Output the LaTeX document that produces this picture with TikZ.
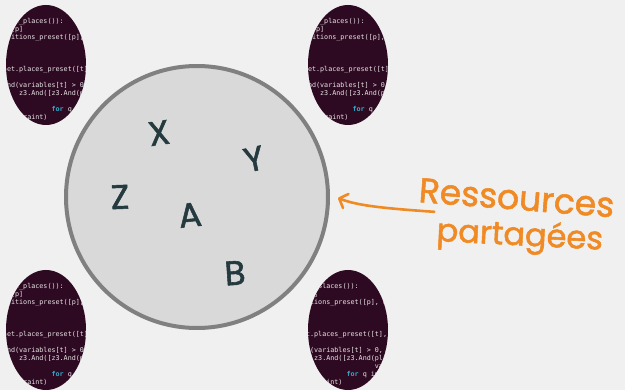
\documentclass[tikz,border=0pt]{standalone}
\usepackage{fontspec}
\setmainfont{Poppins}
\setmonofont{DejaVu Sans Mono}
\newfontfamily\handfont[FakeBold=1.6]{Poppins}
\usetikzlibrary{arrows.meta}

\definecolor{bg}{HTML}{F0F0F0}
\definecolor{aubergine}{HTML}{2E0A22}
\definecolor{codefg}{HTML}{E8E4E6}
\definecolor{kw}{HTML}{34A9C9}
\definecolor{poolfill}{HTML}{D9D9D9}
\definecolor{poolline}{HTML}{808080}
\definecolor{ink}{HTML}{243A3E}
\definecolor{note}{HTML}{EF8A24}

\tikzset{
  codeln/.style={anchor=base west, inner sep=0pt, outer sep=0pt, text=codefg,
    font=\fontsize{6.73}{8}\selectfont\ttfamily},
  pool/.style={circle, draw=poolline, fill=poolfill, line width=4pt,
    minimum size=262pt, inner sep=0pt},
  handletter/.style={text=ink, inner sep=0pt, font=\fontsize{34}{34}\selectfont\handfont},
  notetext/.style={text=note, inner sep=0pt, anchor=base west},
  notearrow/.style={draw=note, line width=2.6pt, line cap=round,
    -{Straight Barb[length=7pt,width=15pt,round]}},
}

% A terminal excerpt seen through an oval window.
% #1 name prefix, #2 centre of the oval, #3 horizontal offset of the text
\newcommand\codepanel[3]{%
  \begin{scope}[name prefix=#1-]
    \fill[aubergine] #2 ellipse [x radius=40, y radius=60];
    \begin{scope}
      \clip #2 ellipse [x radius=40, y radius=60];
      \begin{scope}[shift={#2}, xshift=#3]
        \foreach \r/\c/\t in {
            0/0/{for p in net.get\_places()):},
            1/4/{pre = vars[p]},
            2/1/{t = net.transitions\_preset([p], net)},
            6/3/{for t in net.places\_preset([t], net):},
            8/2/{cons = z3.And(variables[t] > 0,},
            9/16/{z3.And([z3.And(places[q] > 0,},
            10/31/{variables[q] > 0)},
            11/24/{\textbf{\textcolor{kw}{for}} q in pre])},
            12/1/{solver.add(constraint)}} {
          \node[codeln] (l\r) at ({-91.65+4.05*\c}, {-41+8*\r}) {\t};
        }
      \end{scope}
    \end{scope}
  \end{scope}
}

\begin{document}
\begin{tikzpicture}[x=1pt, y=-1pt]
  \useasboundingbox (0,0) rectangle (625,390);
  \fill[bg] (0,0) rectangle (625,390);

  % the four terminal windows
  \codepanel{tl}{(46,65)}{0pt}
  \codepanel{tr}{(348,65)}{-1pt}
  \codepanel{bl}{(46,330)}{0pt}
  \codepanel{br}{(348,330)}{-7pt}

  % the shared pool
  \node[pool] (res) at (197,197) {};

  \node[handletter, rotate=8]  (lx) at (159,133) {X};
  \node[handletter, rotate=12] (ly) at (254,159) {Y};
  \node[handletter, rotate=2]  (lz) at (120,197) {Z};
  \node[handletter, rotate=6]  (la) at (190,215) {A};
  \node[handletter, rotate=4]  (lb) at (235,273) {B};

  % annotation
  \node[notetext, rotate=-4.5, font=\fontsize{34.5}{34.5}\selectfont\handfont]
    (lbl1) at (418,202) {Ressources};
  \node[notetext, rotate=-3, font=\fontsize{32}{32}\selectfont\handfont]
    (lbl2) at (436,241) {partagées};

  \coordinate (tail) at ([xshift=-3pt, yshift=4pt]lbl2.north west);
  \coordinate (tip) at ([xshift=8pt, yshift=-1pt]res.east);
  \draw[notearrow] (tail) .. controls (378,208) and (356,205) .. (tip);
\end{tikzpicture}
\end{document}
